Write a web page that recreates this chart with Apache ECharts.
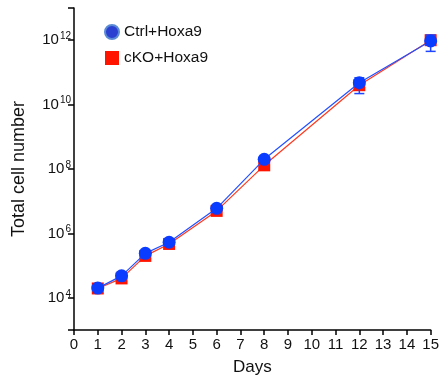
<!DOCTYPE html>
<html>
<head>
	<meta http-equiv="Content-Type" content="text/html; charset=UTF-8">
	<title>Growth curve</title>
	<script src="https://cdn.jsdelivr.net/npm/echarts@6/dist/echarts.min.js"></script>
	<style>
		body { margin: 0; background: #fff; }
	</style>
</head>
<body>

	<div id="main" style="width: 442px;height:385px;"></div>

	<script>
		// days and cell counts
		var days = [1, 2, 3, 4, 6, 8, 12, 15];
		var ctrlValues = [2.0e4, 4.8e4, 2.4e5, 5.3e5, 6.0e6, 2.0e8, 4.8e10, 9.5e11];
		var ckoValues = [1.95e4, 4.0e4, 2.0e5, 4.7e5, 5.0e6, 1.3e8, 4.0e10, 1.0e12];
		// error bars (ctrl) for the last two points
		var errDays = [12, 15];
		var errLow = [2.2e10, 4.5e11];
		var errHigh = [6.8e10, 1.45e12];

		var fontFamily = 'Helvetica, Arial, "Liberation Sans", sans-serif';

		function pairs(xs, ys) {
			var out = [];
			for (var i = 0; i < xs.length; i++) {
				out.push([xs[i], ys[i]]);
			}
			return out;
		}

		var errData = [];
		for (var i = 0; i < errDays.length; i++) {
			errData.push([errDays[i], errLow[i], errHigh[i]]);
		}

		var myChart = echarts.init(document.getElementById('main'));

		var option = {
			animation: false,
			textStyle: { fontFamily: fontFamily },
			grid: { left: 74, right: 11, top: 8, bottom: 55 },
			legend: {
				orient: 'vertical',
				left: 99,
				top: 19,
				itemWidth: 14,
				itemHeight: 14,
				itemGap: 10,
				textStyle: { fontSize: 15.5, color: '#111', fontFamily: fontFamily },
				data: [
					{ name: 'Ctrl+Hoxa9', icon: 'circle',
					  itemStyle: { color: '#2b3fd0', borderColor: '#5b8bd6', borderWidth: 2 } },
					{ name: 'cKO+Hoxa9', icon: 'rect',
					  itemStyle: { color: '#ff1400' } }
				]
			},
			xAxis: {
				type: 'value',
				min: 0,
				max: 15,
				interval: 1,
				name: 'Days',
				nameLocation: 'middle',
				nameGap: 29,
				nameTextStyle: { fontSize: 17, color: '#111' },
				axisLine: { lineStyle: { color: '#000', width: 1.5 } },
				axisTick: { length: 5, lineStyle: { color: '#000', width: 1.5 } },
				axisLabel: { fontSize: 15, color: '#111', margin: 7 },
				splitLine: { show: false }
			},
			yAxis: {
				type: 'log',
				logBase: 100,
				min: 1e3,
				max: 1e13,
				name: 'Total cell number',
				nameLocation: 'middle',
				nameGap: 46,
				nameTextStyle: { fontSize: 18, color: '#111' },
				axisLine: { lineStyle: { color: '#000', width: 1.5 } },
				axisTick: { length: 6, lineStyle: { color: '#000', width: 1.5 } },
				axisLabel: {
					margin: 3,
					formatter: function (v) {
						var e = Math.round(Math.log(v) / Math.LN10);
						if (e % 2 !== 0) return '';
						return '{b|10}{s|' + e + '}';
					},
					rich: {
						b: { fontSize: 15, color: '#111', fontFamily: fontFamily, padding: [0, 1, 0, 0] },
						s: { fontSize: 10, color: '#111', fontFamily: fontFamily, verticalAlign: 'top', padding: [0, 0, 8, 0] }
					}
				},
				splitLine: { show: false }
			},
			series: [
				{
					name: 'cKO+Hoxa9',
					type: 'line',
					data: pairs(days, ckoValues),
					symbol: 'rect',
					symbolSize: 12,
					itemStyle: { color: '#ff1400' },
					lineStyle: { color: '#ff3a20', width: 1.2 },
					z: 2
				},
				{
					name: 'errbar',
					type: 'custom',
					data: errData,
					renderItem: function (params, api) {
						var x = api.value(0);
						var lo = api.coord([x, api.value(1)]);
						var hi = api.coord([x, api.value(2)]);
						var w = 5;
						var st = { stroke: '#1f45ff', lineWidth: 1.5 };
						return {
							type: 'group',
							children: [
								{ type: 'line', shape: { x1: lo[0], y1: lo[1], x2: hi[0], y2: hi[1] }, style: st },
								{ type: 'line', shape: { x1: lo[0] - w, y1: lo[1], x2: lo[0] + w, y2: lo[1] }, style: st },
								{ type: 'line', shape: { x1: hi[0] - w, y1: hi[1], x2: hi[0] + w, y2: hi[1] }, style: st }
							]
						};
					},
					z: 5
				},
				{
					name: 'Ctrl+Hoxa9',
					type: 'line',
					data: pairs(days, ctrlValues),
					symbol: 'circle',
					symbolSize: 13,
					itemStyle: { color: '#0a3cff' },
					lineStyle: { color: '#2350ff', width: 1.2 },
					z: 6
				}
			]
		};

		myChart.setOption(option);
	</script>

</body>
</html>
